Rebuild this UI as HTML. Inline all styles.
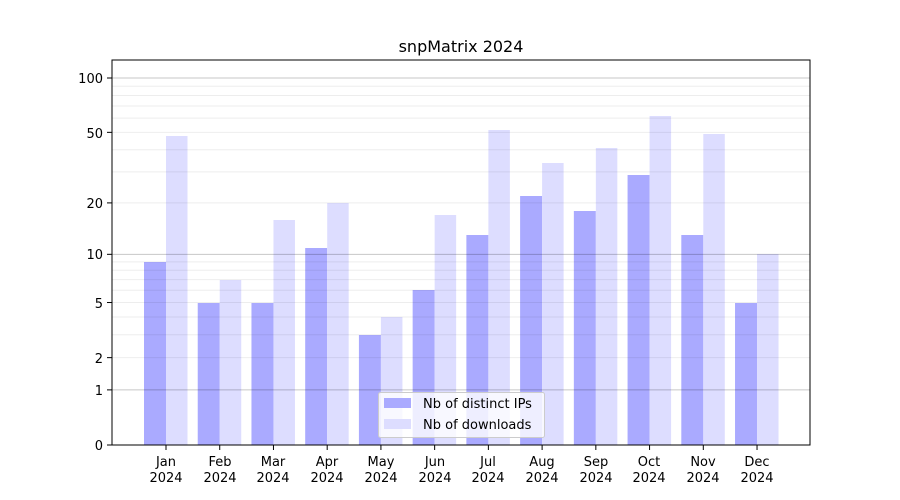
<!DOCTYPE html>
<html><head><meta charset="utf-8"><style>body{margin:0;background:#fff}svg{display:block;font-family:"DejaVu Sans","Liberation Sans",sans-serif}</style></head>
<body>
<svg id="s" width="900" height="500" xmlns="http://www.w3.org/2000/svg">
<rect width="900" height="500" fill="#fff"/>
<g id="bars"></g>
<g id="grid"></g>
<rect x="112" y="60" width="698" height="385" fill="none" stroke="#000" stroke-width="1"/>
<text x="461" y="52" font-size="16" text-anchor="middle">snpMatrix 2024</text>
<g font-size="13" text-anchor="end">
<text x="103" y="83">100</text><text x="103" y="138">50</text><text x="103" y="208">20</text>
<text x="103" y="259">10</text><text x="103" y="308">5</text><text x="103" y="363">2</text>
<text x="103" y="395">1</text><text x="103" y="450">0</text>
</g>
<g id="xt" font-size="13" text-anchor="middle">
<text x="166" y="466">Jan</text><text x="166" y="482">2024</text>
<text x="220" y="466">Feb</text><text x="220" y="482">2024</text>
<text x="273" y="466">Mar</text><text x="273" y="482">2024</text>
<text x="327" y="466">Apr</text><text x="327" y="482">2024</text>
<text x="381" y="466">May</text><text x="381" y="482">2024</text>
<text x="435" y="466">Jun</text><text x="435" y="482">2024</text>
<text x="488" y="466">Jul</text><text x="488" y="482">2024</text>
<text x="542" y="466">Aug</text><text x="542" y="482">2024</text>
<text x="596" y="466">Sep</text><text x="596" y="482">2024</text>
<text x="649" y="466">Oct</text><text x="649" y="482">2024</text>
<text x="703" y="466">Nov</text><text x="703" y="482">2024</text>
<text x="757" y="466">Dec</text><text x="757" y="482">2024</text>
</g>
<g id="ticks" stroke="#000"></g>
<rect x="378.5" y="392.5" width="166" height="45" rx="2" fill="#fff" fill-opacity="0.8" stroke="#ccc"/>
<rect x="384" y="398" width="27" height="10" fill="#aaaaff"/>
<rect x="384" y="419" width="27" height="10" fill="#ddddff"/>
<text x="423" y="408" font-size="13">Nb of distinct IPs</text>
<text x="423" y="429" font-size="13">Nb of downloads</text>
</svg>
<script>
var ns="http://www.w3.org/2000/svg";
function el(p,t,a){var e=document.createElementNS(ns,t);for(var k in a)e.setAttribute(k,a[k]);document.getElementById(p).appendChild(e);}
function Y(v){return 445-183.1*Math.log10(1+v);}
var minor=[3,4,6,7,8,9,30,40,60,70,80,90,2,5,20,50];
minor.forEach(function(v){el("grid","line",{x1:112,x2:810,y1:Y(v),y2:Y(v),stroke:"#000","stroke-opacity":0.07});});
[1,10,100].forEach(function(v){el("grid","line",{x1:112,x2:810,y1:Y(v),y2:Y(v),stroke:"#000","stroke-opacity":0.22});});
var d=[262,303,303,248,335,290,235,196,211,175,235,303];
var l=[136,280,220,203,317,215,130,163,148,116,134,254];
for(var i=0;i<12;i++){var c=166+i*53.73;
el("bars","rect",{x:c-22,y:d[i],width:22,height:445-d[i],fill:"#aaaaff"});
el("bars","rect",{x:c,y:l[i],width:21.5,height:445-l[i],fill:"#ddddff"});
el("ticks","line",{x1:c,x2:c,y1:445,y2:450});}
[0,1,2,5,10,20,50,100].forEach(function(v){el("ticks","line",{x1:107,x2:112,y1:Y(v),y2:Y(v)});});
</script>
</body></html>
